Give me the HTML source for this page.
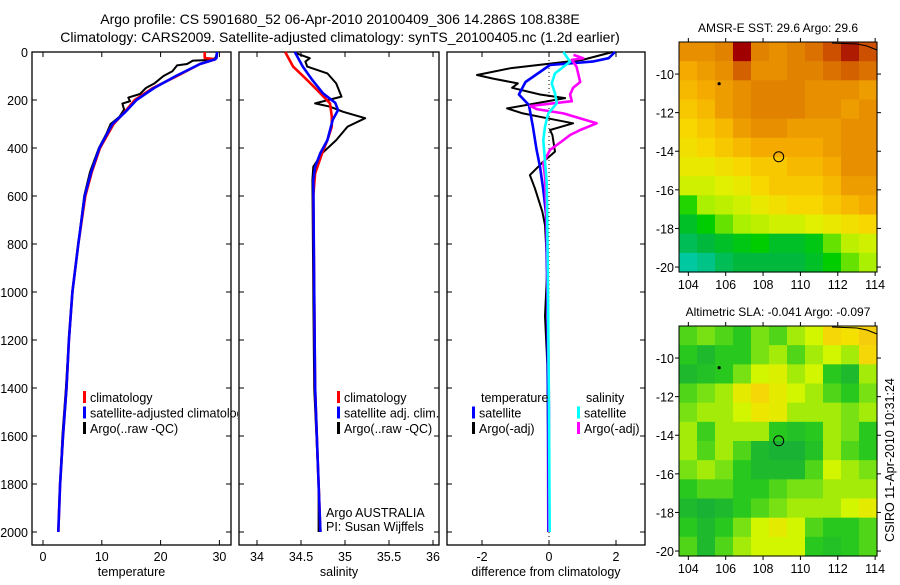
<!DOCTYPE html>
<html><head><meta charset="utf-8"><style>
body{margin:0;background:#fff;}
svg text{font-family:"Liberation Sans",sans-serif;fill:#000;}
</style></head><body>
<svg id="fig" width="900" height="580" xmlns="http://www.w3.org/2000/svg">
<defs><clipPath id="clip1"><rect x="32" y="52" width="206" height="493"/></clipPath></defs>
<text x="340" y="24" font-size="14" text-anchor="middle">Argo profile: CS 5901680_52 06-Apr-2010 20100409_306 14.286S 108.838E</text>
<text x="340" y="42" font-size="14" text-anchor="middle">Climatology: CARS2009. Satellite-adjusted climatology: synTS_20100405.nc (1.2d earlier)</text>
<g id="g"></g>
</svg>
<script>
// ---- profile data ----
const depthTicks=[0,200,400,600,800,1000,1200,1400,1600,1800,2000];
const tempTicks=[0,10,20,30];
const salTicks=[34,34.5,35,35.5,36];
const diffTicks=[-2,0,2];
const climTDepth=[0,25,30,50,100,150,200,250,300,400,500,600,800,1000,1200,1400,1600,1800,2000];
const climT=[27.5,27.5,29.3,26.7,22.8,18.7,15.6,13.9,12.0,9.7,8.3,7.2,6.0,5.0,4.4,4.0,3.4,2.9,2.6];
const satT=[29.6,29.5,29.3,26.7,22.6,18.9,15.9,14.0,11.8,9.6,8.2,7.1,6.0,5.0,4.4,4.0,3.4,2.9,2.6];
const argoTDepth=[0,20,33,36,50,56,80,100,130,150,175,190,205,215,240,270,300,340,400,500,600,800,1000,1200,1400,1600,1800,2000];
const argoT=[29.6,29.4,29.0,25.5,24.5,22.8,22.0,20.5,19.0,17.5,16.5,14.5,14.8,13.5,13.8,13.0,11.5,10.8,9.5,8.0,7.0,6.0,5.0,4.4,3.9,3.3,2.9,2.6];
const climSDepth=[0,61,117,172,214,269,311,367,422,506,600,1000,1400,1700,2000];
const climS=[34.32,34.41,34.57,34.72,34.83,34.85,34.85,34.8,34.74,34.66,34.64,34.65,34.66,34.69,34.72];
const satSDepth=[0,61,117,172,212,242,283,367,421,479,533,1000,1400,1700,2000];
const satS=[34.43,34.52,34.63,34.75,34.89,34.92,34.86,34.8,34.72,34.66,34.64,34.65,34.66,34.69,34.72];
const argoSDepth=[6,26,40,61,89,131,186,214,228,249,276,311,367,422,478,533,1000,1400,1800,2000];
const argoS=[34.45,34.6,34.55,34.57,34.8,34.9,34.96,34.66,34.83,34.98,35.23,35.03,34.9,34.74,34.64,34.63,34.64,34.65,34.7,34.7];
const dArgoTDepth=[0,33,68,96,111,131,149,177,192,214,235,256,270,297,325,346,415,457,513,568,665,721,900,1100,1300,1600,2000];
const dArgoT=[1.9,1.0,-1.16,-2.15,-1.67,-0.93,-1.1,-0.27,0.48,-0.4,-1.25,-0.78,-0.27,0.72,0.03,0.1,0.18,-0.17,-0.57,-0.42,-0.2,-0.12,-0.05,-0.12,-0.05,-0.03,-0.02];
const dSatTDepth=[0,26,40,54,125,177,221,311,408,478,575,672,1000,1500,2000];
const dSatT=[1.97,1.78,1.3,0.03,-0.7,-0.9,-0.6,-0.48,-0.37,-0.27,-0.17,-0.09,-0.05,-0.03,-0.02];
const dSatSDepth=[0,40,89,131,172,214,256,311,367,457,545,700,1000,1500,2000];
const dSatS=[0.43,0.63,0.18,0.08,0.18,0.23,-0.02,-0.12,-0.17,-0.12,-0.07,-0.05,-0.03,0.0,0.02];
const dArgoSDepth=[12,26,33,61,125,149,177,205,225,238,256,297,325,346,367,408,463,519,700,1000,1500,2000];
const dArgoS=[0.73,1.02,0.68,0.82,0.93,0.72,0.63,0.68,-0.56,-0.37,0.43,1.42,0.93,0.63,0.43,0.03,-0.17,-0.12,-0.07,-0.04,0.0,0.0];
// ---- map data (rows north->south, cols west->east, 1 degree cells) ----
const lonTicks=[104,106,108,110,112,114];
const latTicks=[-10,-12,-14,-16,-18,-20];
const sstGrid=[
[29.9,29.9,30.0,30.6,30.0,29.9,30.0,30.1,30.3,30.5,30.3],
[29.7,29.8,29.9,30.2,29.9,29.9,30.0,30.0,30.1,30.2,30.1],
[29.6,29.7,29.8,29.9,30.0,30.0,30.0,29.9,29.9,29.9,29.8],
[29.5,29.6,29.8,29.9,30.0,30.0,30.0,29.9,29.9,29.8,29.9],
[29.4,29.5,29.6,29.8,29.9,29.9,29.8,29.8,29.8,29.9,29.9],
[29.3,29.4,29.5,29.6,29.7,29.7,29.7,29.7,29.8,29.9,29.9],
[29.2,29.2,29.3,29.4,29.5,29.5,29.6,29.6,29.7,29.9,29.9],
[29.0,29.0,29.1,29.2,29.4,29.5,29.5,29.5,29.6,29.8,29.8],
[28.4,28.8,28.9,29.0,29.2,29.3,29.4,29.4,29.5,29.6,29.7],
[28.1,28.3,28.6,28.8,28.9,29.0,29.0,29.1,29.2,29.3,29.4],
[27.9,28.0,28.1,28.2,28.3,28.1,28.1,28.2,28.6,28.9,29.0],
[27.6,27.7,27.9,28.0,28.0,28.0,28.0,28.1,28.3,28.6,28.8]];
const slaGrid=[
[0.3,0.4,0.3,0.2,0.4,0.3,0.5,0.6,0.85,0.8,0.9],
[0.2,0.1,0.2,0.2,0.4,0.5,0.3,0.5,0.6,0.5,0.85],
[0.1,0.15,0.2,0.4,0.6,0.65,0.5,0.6,0.2,0.1,0.5],
[0.3,0.4,0.5,0.7,0.85,0.7,0.6,0.5,0.3,0.2,0.4],
[0.4,0.5,0.5,0.6,0.75,0.7,0.5,0.5,0.5,0.4,0.5],
[0.5,0.25,0.5,0.5,0.5,0.2,0.15,0.2,0.5,0.4,0.2],
[0.5,0.3,0.5,0.3,0.1,0.05,0.05,0.15,0.5,0.3,0.2],
[0.4,0.5,0.4,0.2,0.1,0.1,0.1,0.3,0.6,0.5,0.4],
[0.2,0.3,0.3,0.2,0.2,0.3,0.4,0.4,0.5,0.5,0.5],
[0.1,0.05,0.1,0.2,0.3,0.4,0.5,0.5,0.5,0.6,0.7],
[0.2,0.1,0.2,0.4,0.6,0.7,0.6,0.3,0.2,0.2,0.3],
[0.3,0.1,0.3,0.5,0.6,0.6,0.6,0.2,0.15,0.2,0.3]];
const argoLon=108.838, argoLat=-14.286;

const NS="http://www.w3.org/2000/svg";
const G=document.getElementById('g');
function mk(tag,attrs,parent){const e=document.createElementNS(NS,tag);for(const k in attrs)e.setAttribute(k,attrs[k]);(parent||G).appendChild(e);return e;}
const TOP=52, BOT=545, DPX=0.24;
const FS=12.5;
const yD=d=>TOP+d*DPX;
function panel(name,x0,x1,v0,pxPerUnit,vx0,ticks,fmt,xlabel){
  const sx=v=>vx0+(v-v0)*pxPerUnit;
  const g=mk('g',{});
  
  
  const r=mk('rect',{x:x0,y:TOP,width:x1-x0,height:BOT-TOP,fill:'none',stroke:'#000','stroke-width':1.3},g);
  
  
  ticks.forEach(t=>{const x=sx(t);
    mk('line',{x1:x,x2:x,y1:TOP,y2:TOP+5,stroke:'#000'},g);
    mk('line',{x1:x,x2:x,y1:BOT,y2:BOT-5,stroke:'#000'},g);
    const tx=mk('text',{x:x,y:BOT+16,'font-size':FS,'text-anchor':'middle'},g);tx.textContent=fmt(t);
    
    
  });
  depthTicks.forEach(d=>{const y=yD(d);
    mk('line',{x1:x0,x2:x0+5,y1:y,y2:y,stroke:'#000'},g);
    mk('line',{x1:x1,x2:x1-5,y1:y,y2:y,stroke:'#000'},g);
  });
  const xl=mk('text',{x:(x0+x1)/2,y:BOT+31,'font-size':FS,'text-anchor':'middle'},g);xl.textContent=xlabel;
  
  
  return {g,sx};
}
function series(p,name,depths,vals,color,w){
  const pts=depths.map((d,i)=>p.sx(vals[i]).toFixed(1)+','+yD(d).toFixed(1)).join(' ');
  const l=mk('polyline',{points:pts,fill:'none',stroke:color,'stroke-width':w,'stroke-linejoin':'round'},p.g);
  
  
}
function legend(p,x,y,items,clip){
  const lg=mk('g',clip?{'clip-path':'url(#'+clip+')'}:{},p.g);
  items.forEach((it,i)=>{
    mk('rect',{x:x,y:y+i*15.5-11,width:3,height:12,fill:it[1]},lg);
    const t=mk('text',{x:x+7,y:y+i*15.5,'font-size':FS},lg);t.textContent=it[0];
    
    
  });
}
// depth labels
depthTicks.forEach(d=>{const t=mk('text',{x:28,y:yD(d)+5,'font-size':FS,'text-anchor':'end'});t.textContent=d;
  
  });

const p1=panel('temperature-panel',32,231,0,5.88,43,tempTicks,String,'temperature');
series(p1,'argo-temperature-line',argoTDepth,argoT,'#000',2);
series(p1,'climatology-temperature-line',climTDepth,climT,'#f00',2.6);
series(p1,'satellite-temperature-line',climTDepth,satT,'#00f',2.6);
legend(p1,83,402,[['climatology','#f00'],['satellite-adjusted climatology','#00f'],['Argo(..raw -QC)','#000']],'clip1');

const p2=panel('salinity-panel',239,439,34,88,257,salTicks,String,'salinity');
series(p2,'argo-salinity-line',argoSDepth,argoS,'#000',2);
series(p2,'climatology-salinity-line',climSDepth,climS,'#f00',2.6);
series(p2,'satellite-salinity-line',satSDepth,satS,'#00f',2.6);
legend(p2,337,402,[['climatology','#f00'],['satellite adj. clim.','#00f'],['Argo(..raw -QC)','#000']]);
const a1=mk('text',{x:326,y:517,'font-size':FS},p2.g);a1.textContent='Argo AUSTRALIA';


const a2=mk('text',{x:326,y:531,'font-size':FS},p2.g);a2.textContent='PI: Susan Wijffels';



const p3=panel('difference-panel',447,645,0,33.5,549,diffTicks,String,'difference from climatology');
const z=mk('line',{x1:p3.sx(0),x2:p3.sx(0),y1:TOP,y2:BOT,stroke:'#000','stroke-dasharray':'1,3'},p3.g);


series(p3,'argo-temp-diff-line',dArgoTDepth,dArgoT,'#000',2);
series(p3,'satellite-temp-diff-line',dSatTDepth,dSatT,'#00f',2.6);
series(p3,'argo-sal-diff-line',dArgoSDepth,dArgoS,'#f0f',2.6);
series(p3,'satellite-sal-diff-line',dSatSDepth,dSatS,'#0ff',2.6);
[['temperature',481,402],['salinity',586,402]].forEach(h=>{const t=mk('text',{x:h[1],y:h[2],'font-size':FS},p3.g);t.textContent=h[0];
  
  });
legend(p3,472,417.5,[['satellite','#00f'],['Argo(-adj)','#000']]);
legend(p3,577,417.5,[['satellite','#0ff'],['Argo(-adj)','#f0f']]);

// ---- maps ----
function lerpColor(stops,v){
  if(v<=stops[0][0])return 'rgb('+stops[0][1].join(',')+')';
  for(let i=1;i<stops.length;i++){if(v<=stops[i][0]){const a=stops[i-1],b=stops[i],f=(v-a[0])/(b[0]-a[0]);
    return 'rgb('+a[1].map((c,k)=>Math.round(c+(b[1][k]-c)*f)).join(',')+')';}}
  return 'rgb('+stops[stops.length-1][1].join(',')+')';
}
const sstStops=[[27.6,[0,200,160]],[28.0,[0,185,60]],[28.3,[0,205,0]],[28.8,[170,240,0]],[29.1,[225,240,0]],[29.4,[248,215,0]],[29.7,[245,170,0]],[30.0,[225,130,0]],[30.3,[205,80,0]],[30.6,[160,0,0]]];
const slaStops=[[0,[20,170,60]],[0.2,[40,200,30]],[0.4,[120,225,20]],[0.6,[210,245,0]],[0.8,[245,225,0]],[0.95,[245,195,20]]];
function map(name,top,grid,stops,title){
  const L=679,R=877,B=top+230;
  const lon0=103.5,lon1=114.1,lat0=-8.34,pxLat=19.3;
  const sx=lon=>L+(lon-lon0)*(R-L)/(lon1-lon0);
  const sy=lat=>top+(lat0-lat)*pxLat;
  const g=mk('g',{});
  
  
  const cw=(R-L)/grid[0].length, ch=(B-top)/grid.length;
  grid.forEach((row,r)=>row.forEach((v,c)=>{
    const cell=mk('rect',{x:L+c*cw,y:top+r*ch,width:cw+0.6,height:ch+0.6,fill:lerpColor(stops,v)},g);
    
    
  }));
  mk('path',{d:`M${R-45},${top+1} L${R-20},${top+2} L${R-10},${top+4} L${R},${top+8}`,fill:'none',stroke:'#000','stroke-width':1},g);
  mk('circle',{cx:sx(105.65),cy:sy(-10.5),r:1.6,fill:'#000'},g);
  const m=mk('circle',{cx:sx(argoLon),cy:sy(argoLat),r:5,fill:'none',stroke:'#000','stroke-width':1},g);
  
  
  mk('rect',{x:L,y:top,width:R-L,height:B-top,fill:'none',stroke:'#000','stroke-width':1},g);
  lonTicks.forEach(l=>{const x=sx(l);mk('line',{x1:x,x2:x,y1:B,y2:B+4,stroke:'#000'},g);mk('line',{x1:x,x2:x,y1:top,y2:top-4,stroke:'#000'},g);
    const t=mk('text',{x:x,y:B+17,'font-size':FS,'text-anchor':'middle'},g);t.textContent=l;
    
    });
  latTicks.forEach(l=>{const y=sy(l);mk('line',{x1:L-4,x2:L,y1:y,y2:y,stroke:'#000'},g);mk('line',{x1:R,x2:R+4,y1:y,y2:y,stroke:'#000'},g);
    const t=mk('text',{x:L-5,y:y+5,'font-size':FS,'text-anchor':'end'},g);t.textContent=l;
    
    });
  const tt=mk('text',{x:(L+R)/2,y:top-10,'font-size':12,'text-anchor':'middle'},g);tt.textContent=title;
  
  
}
map('sst-map',42,sstGrid,sstStops,'AMSR-E SST: 29.6 Argo: 29.6');
map('sla-map',326,slaGrid,slaStops,'Altimetric SLA: -0.041 Argo: -0.097');
const cs=mk('text',{x:0,y:0,'font-size':FS,'text-anchor':'middle',transform:'translate(894,460) rotate(-90)'});cs.textContent='CSIRO 11-Apr-2010 10:31:24';


</script>
</body></html>
